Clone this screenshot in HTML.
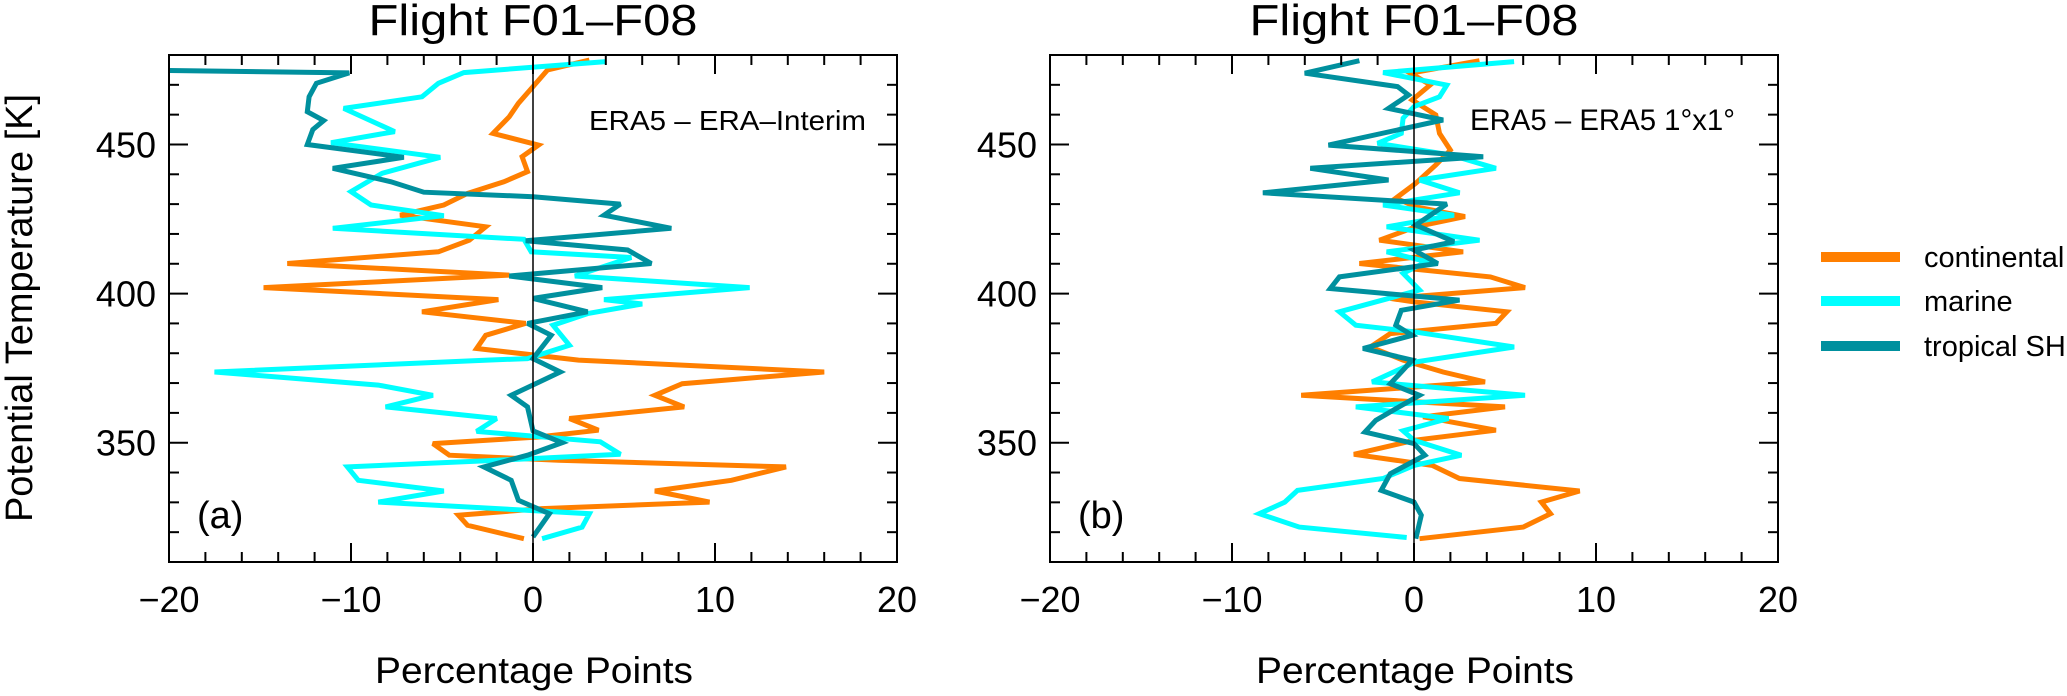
<!DOCTYPE html>
<html><head><meta charset="utf-8"><title>Flight F01–F08</title>
<style>
html,body{margin:0;padding:0;background:#fff;}
svg{display:block;font-family:"Liberation Sans",Arial,sans-serif;}
</style></head>
<body>
<svg id="chart" width="2067" height="696" viewBox="0 0 2067 696" xmlns="http://www.w3.org/2000/svg">
<defs>
<clipPath id="clipA"><rect x="169" y="55" width="728" height="507"/></clipPath>
<clipPath id="clipB"><rect x="1050" y="55" width="728" height="507"/></clipPath>
</defs>
<g id="legend">
<line x1="1821" y1="257" x2="1900" y2="257" stroke="#FF7F00" stroke-width="10"/>
<text x="1924" y="267" font-size="29">continental</text>
<line x1="1821" y1="301" x2="1900" y2="301" stroke="#00FFFF" stroke-width="10"/>
<text x="1924" y="311" font-size="29">marine</text>
<line x1="1821" y1="346" x2="1900" y2="346" stroke="#00909E" stroke-width="10"/>
<text x="1924" y="356" font-size="29">tropical SH</text>
</g>
</svg>
<script>
// ---- Panel (a): ERA5 - ERA-Interim ----
const contA_val = [3.1,0.8,0,-0.8,-1.3,-2.2,0.3,-0.6,-0.3,-1.6,-3.6,-4.9,-7.3,-2.6,-3.5,-5.2,-13.5,-1.3,-14.8,-1.9,-6.1,-0.4,-2.6,-3.1,2.5,16,8.2,6.7,8.3,2,3.6,0.3,-5.5,-4.6,1.4,13.9,10.9,6.7,9.7,0.5,-4.1,-3.6,-0.5];
const contA_theta = [478.3,475,469.4,463.8,459.3,453.7,449.8,445.9,440.9,437.5,433.6,429.7,426.3,422.4,417.9,414,410.1,406.2,402,398,393.9,390,386,381.6,377.7,373.7,369.8,365.9,362,358.1,354.2,351.9,349.7,345.8,344.1,341.9,337.4,333.8,330.1,327.9,325.7,322.3,317.8];
const marA_val = [4,-3.8,-5.2,-6.1,-10.4,-7.6,-11.1,-5.1,-8.3,-10,-8.9,-4.9,-11,-0.5,-0.1,5.4,2.3,11.9,3.9,6,3,1.1,2,-0.3,-2.5,-17.5,-8.5,-5.5,-8.1,-2,-3.1,3.7,4.8,-2.7,-10.2,-9.6,-4.9,-8.5,3.1,2.7,0.5];
const marA_theta = [477.8,474.1,470.5,466,462.1,454.3,450.6,445.7,440.3,434.2,429.7,426.1,421.9,418.2,414,412.1,405.9,402,398,396.5,393.3,389.4,382.7,378.2,377.7,373.7,369.3,365.9,362,358.1,353.8,350.3,346.1,343.9,341.9,337.4,333.8,330.1,326.2,321.7,317.8];
const tropA_val = [-20,-10.1,-11.9,-12.3,-12.4,-11.5,-12.1,-12.4,-7.1,-11,-7.8,-6,0,4.8,3.9,7.6,-0.4,5.2,6.5,-1.3,3.8,0,3,-0.3,1,0,1.5,-1.2,-0.3,0,1.6,-0.3,-2.7,-1.2,-0.8,0.9,0];
const tropA_theta = [474.8,474,470.5,466,461,458,455,450,445.7,442,437.5,434,432.5,430,426.3,421.9,417.7,414.6,410.1,405.9,402,398.4,393.9,390,386,378.2,373.7,365.9,362,354,350,345.8,341.9,337.4,330.7,326.2,318.4];
// ---- Panel (b): ERA5 - ERA5 1x1 ----
const contB_val = [3.6,-0.2,0.9,-0.1,1.2,1.4,2,1.2,0.1,-1,0.1,2.8,0.1,-1.9,2.7,-3,4.2,6.1,-1.3,0,5.1,4.5,-1.3,-2.4,-0.6,1.6,3.9,-6.2,5,0.5,4.5,0,-3.3,1,2.5,9.1,7,7.5,6,0.3];
const contB_theta = [478.1,473.9,470,464.9,459.9,453.7,448.1,443.1,437,432,429.1,425.8,422.4,417.9,414,410.1,405.6,402,398.4,397.2,393.9,390,386.6,382.1,377.7,373.7,370.4,365.9,362,358.7,354.2,350.8,346.1,342.4,338,333.8,330.1,326.2,321.7,317.8];
const marB_val = [5.5,-1.7,1.8,1.4,0,-0.6,-0.7,-2,2,4.5,0.3,2.5,-1.7,2.2,-1.5,3.6,-1.5,0.7,-0.6,0.3,-4.1,-3.2,0,5.5,0.1,-2.3,6.1,-3.2,1.9,-0.6,0,2.6,0,-1.7,-6.4,-7.1,-8.5,-6.3,-0.4];
const marB_theta = [477.8,474.1,469.9,466,462.7,458.8,453.7,450.4,446.5,442,438.1,433.8,429.7,426.3,422.4,417.9,414,410.7,406.8,401.2,393.9,389.4,387.2,382.1,377.1,370.4,365.9,362,358.1,354,350.8,345.8,342.4,338,334,330.1,326.2,321.7,318.2];
const tropB_val = [-3,-6,-0.9,-0.3,-1.4,1.6,-4.7,3.8,-5.7,-1.4,-8.3,1.8,0.1,2.2,0,1.3,-4.1,-4.6,2.5,-0.7,-1,-0.1,-2.8,-0.1,-0.7,-1.3,0.3,-1,-2.1,-2.7,0,0.6,-1.3,-1.8,0,0.4,0.1];
const tropB_theta = [478.1,473.9,469.4,466.6,462.1,458.2,449.8,445.9,442,438.1,433.8,430,423,417.4,414.6,410.1,405.6,401.7,397.8,394.4,389.4,386,381.6,377.7,373.7,369.8,365.9,361.4,357.5,353.6,349.7,345.8,339.6,334,330.1,325.7,317.8];

const xTicks = [-20,-10,0,10,20];
const yTicks = [350,400,450];
const titles = ["Flight F01\u2013F08","Flight F01\u2013F08"];
const annotations = ["ERA5 \u2013 ERA\u2013Interim","ERA5 \u2013 ERA5 1\u00b0x1\u00b0"];
const panelLabels = ["(a)","(b)"];

const NS = "http://www.w3.org/2000/svg";
const svg = document.getElementById('chart');
const X0=-20, X1=20, T0=310, T1=480, TOP=55, BOT=562, W=728;
function mk(tag, attrs, parent){
  const e=document.createElementNS(NS,tag);
  for(const k in attrs) e.setAttribute(k,attrs[k]);
  (parent||svg).appendChild(e); return e;
}
function makePanel(idx, left, clipId, series){
  const xs = v => left + (v-X0)/(X1-X0)*W;
  const ys = t => BOT - (t-T0)/(T1-T0)*(BOT-TOP);
  const g = mk('g',{});
  
  
  const t = mk('text',{x:left+W/2,y:35,'font-size':44,'text-anchor':'middle',textLength:329,lengthAdjust:'spacingAndGlyphs'},g);
  
  
  t.textContent = titles[idx];
  const sg = mk('g',{'clip-path':'url(#'+clipId+')'},g);
  
  
  series.forEach(s=>{
    const pts = s.v.map((v,i)=>xs(v).toFixed(1)+','+ys(s.t[i]).toFixed(1)).join(' ');
    const pl = mk('polyline',{points:pts,fill:'none',stroke:s.c,'stroke-width':5,'stroke-linejoin':'miter','stroke-miterlimit':3},sg);
    
    
  });
  const zl = mk('line',{x1:xs(0),x2:xs(0),y1:TOP,y2:BOT,stroke:'#000','stroke-width':1.5},g);
  
  
  const fr = mk('rect',{x:left,y:TOP,width:W,height:BOT-TOP,fill:'none',stroke:'#000','stroke-width':2},g);
  
  
  for(let v=X0; v<=X1; v+=2){
    const major = v%10===0; const L = major?19:10;
    mk('line',{x1:xs(v),x2:xs(v),y1:BOT,y2:BOT-L,stroke:'#000','stroke-width':2},g);
    mk('line',{x1:xs(v),x2:xs(v),y1:TOP,y2:TOP+L,stroke:'#000','stroke-width':2},g);
  }
  xTicks.forEach(v=>{
    const tl = mk('text',{x:xs(v),y:612,'font-size':36,'text-anchor':'middle'},g);
    
    
    tl.textContent = v<0 ? '\u2212'+Math.abs(v) : String(v);
  });
  for(let t2=T0+10; t2<T1; t2+=10){
    const major = t2%50===0; const L = major?19:10;
    mk('line',{x1:left,x2:left+L,y1:ys(t2),y2:ys(t2),stroke:'#000','stroke-width':2},g);
    mk('line',{x1:left+W,x2:left+W-L,y1:ys(t2),y2:ys(t2),stroke:'#000','stroke-width':2},g);
  }
  yTicks.forEach(v=>{
    const tl = mk('text',{x:left-13,y:ys(v)+13,'font-size':36,'text-anchor':'end'},g);
    
    
    tl.textContent = String(v);
  });
  const xt = mk('text',{x:left+W/2+1,y:683,'font-size':37,'text-anchor':'middle',textLength:318,lengthAdjust:'spacingAndGlyphs'},g);
  
  
  xt.textContent = 'Percentage Points';
  const an = mk('text',{x:idx===0?589:1470,y:130,'font-size':idx===0?28:30,textLength:idx===0?277:265,lengthAdjust:'spacingAndGlyphs'},g);
  
  
  an.textContent = annotations[idx];
  const pl = mk('text',{x:left+28,y:528,'font-size':38},g);
  
  
  pl.textContent = panelLabels[idx];
}
makePanel(0,169,'clipA',[
  {v:contA_val,t:contA_theta,c:'#FF7F00',n:'continental-line-a'},
  {v:marA_val,t:marA_theta,c:'#00FFFF',n:'marine-line-a'},
  {v:tropA_val,t:tropA_theta,c:'#00909E',n:'tropical-sh-line-a'}]);
makePanel(1,1050,'clipB',[
  {v:contB_val,t:contB_theta,c:'#FF7F00',n:'continental-line-b'},
  {v:marB_val,t:marB_theta,c:'#00FFFF',n:'marine-line-b'},
  {v:tropB_val,t:tropB_theta,c:'#00909E',n:'tropical-sh-line-b'}]);
const yt = mk('text',{x:0,y:0,'font-size':38,'text-anchor':'middle',transform:'translate(32,308) rotate(-90)'});


yt.textContent = 'Potential Temperature [K]';
</script>
</body></html>
